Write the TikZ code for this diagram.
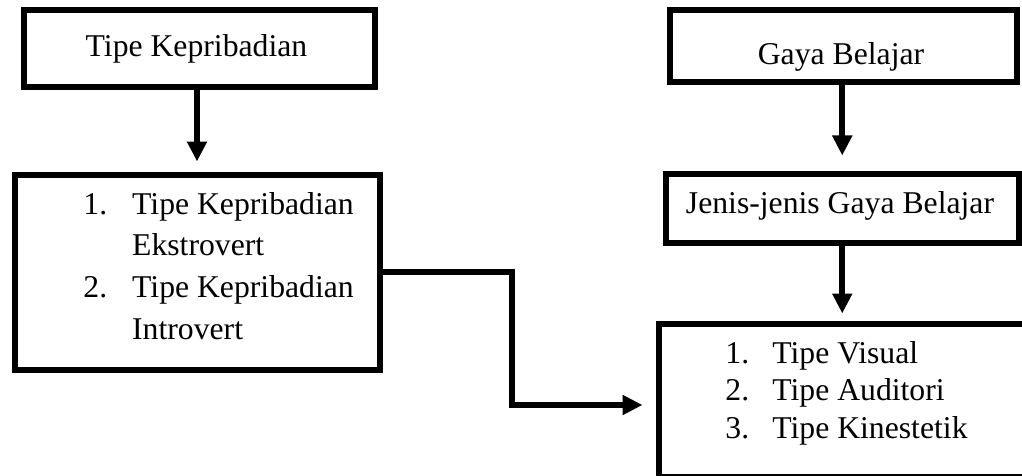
\documentclass[tikz,border=0pt]{standalone}
\usepackage{fontspec}
\setmainfont{Liberation Serif}
\usetikzlibrary{arrows.meta}
\begin{document}
\begin{tikzpicture}[x=0.5pt,y=-0.5pt,
  box/.style={draw, line width=3pt, rectangle, inner sep=0pt},
  lbl/.style={inner sep=0pt, font=\fontsize{15.85pt}{20.9pt}\selectfont},
  lblb/.style={inner sep=0pt, font=\fontsize{15.85pt}{18.75pt}\selectfont},
  arr/.style={line width=3pt, -{Triangle[length=10pt,width=9.5pt]}}]
\useasboundingbox (0,0) rectangle (1022,476);
% boxes
\node[box, minimum width=175.5pt, minimum height=38.5pt] (b1) at (199.5,48.5) {};
\node[box, minimum width=182.5pt, minimum height=97.75pt] (b2) at (197,272.25) {};
\node[box, minimum width=173.25pt, minimum height=35.75pt] (b3) at (843.25,46.25) {};
\node[box, minimum width=176.25pt, minimum height=34.75pt] (b4) at (842.25,208.25) {};
\node[box, minimum width=183.75pt, minimum height=76.75pt] (b5) at (842.25,400.25) {};
% texts
\node[lbl, anchor=base] (t1) at (196.5,57) {Tipe Kepribadian};
\node[lbl, anchor=base] (t3) at (841,65) {Gaya Belajar};
\node[lbl, anchor=base] (t4) at (840,213) {Jenis-jenis Gaya Belajar};
\node[lbl, anchor=base west] (t2) at (83,214) {\begin{tabular}[t]{@{}l@{\hspace{12.5pt}}l@{}}1.&Tipe Kepribadian\\&Ekstrovert\\2.&Tipe Kepribadian\\&Introvert\end{tabular}};
\node[lblb, anchor=base west] (t5) at (725,363) {\begin{tabular}[t]{@{}l@{\hspace{11.6pt}}l@{}}1.&Tipe Visual\\2.&Tipe Auditori\\3.&Tipe Kinestetik\end{tabular}};
% connectors
\draw[arr, shorten >=5pt] (b2.north |- b1.south) -- (b2.north);
\draw[arr, shorten >=7.5pt] (b4.north |- b3.south) -- (b4.north);
\draw[arr, shorten >=3.5pt] (b4.south) -- (b5.north);
\coordinate (k1) at (512,272.25);
\coordinate (k2) at (512,405);
\draw[arr, shorten >=6.5pt] (b2.east) -- (k1) -- (k2) -- (b5.west |- k2);
\end{tikzpicture}
\end{document}
